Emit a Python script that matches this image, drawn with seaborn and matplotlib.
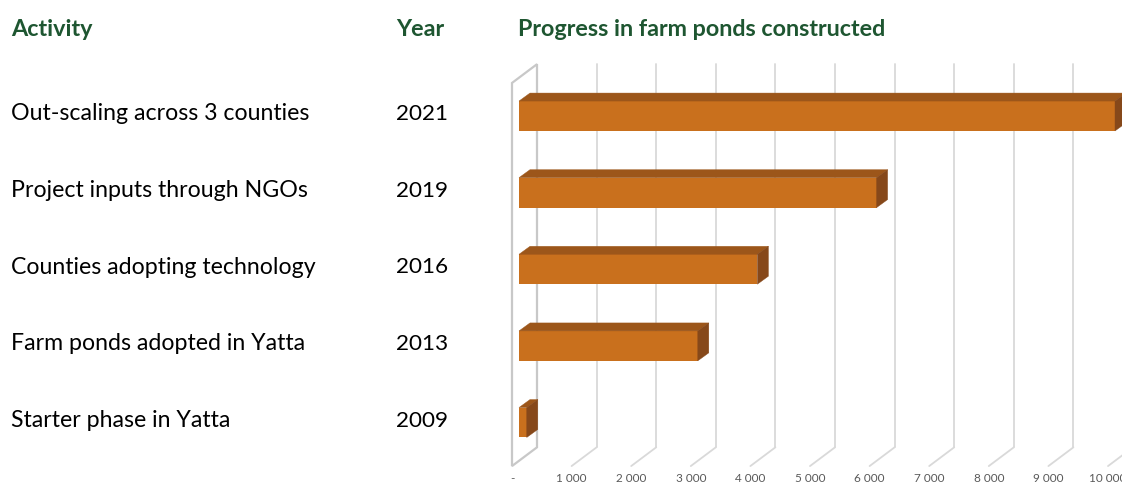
import numpy as np
import pandas as pd
import seaborn as sns
import matplotlib.pyplot as plt
from matplotlib.patches import Polygon
from matplotlib import transforms

# ---------------------------------------------------------------------------
# Data
# ---------------------------------------------------------------------------
activities = [
    "Out-scaling across 3 counties",
    "Project inputs through NGOs",
    "Counties adopting technology",
    "Farm ponds adopted in Yatta",
    "Starter phase in Yatta",
]
years = ["2021", "2019", "2016", "2013", "2009"]
ponds = [10000, 6000, 4000, 3000, 130]
xticks = list(range(0, 10001, 1000))
xtick_labels = ["-"] + [f"{t // 1000} 000" for t in xticks[1:]]

# ---------------------------------------------------------------------------
# Style / layout
# ---------------------------------------------------------------------------
FRONT = "#C9701D"
TOP = "#9C561A"
SIDE = "#86481A"
GREEN = "#1E5631"
GRID = "#D9D9D9"
WALL = "#C8C8C8"

W, H = 1122, 486
X0, X1 = 519, 1115          # pixel columns of 0 and 10 000 on the bar face
Y_FIRST, Y_LAST = 116, 422.5  # pixel rows of first / last bar centre
STEP = (Y_LAST - Y_FIRST) / 4

sns.set_theme(style="white")
plt.rcParams["font.family"] = ["Lato", "DejaVu Sans"]

fig = plt.figure(figsize=(W / 100, H / 100), dpi=100)
ax = fig.add_axes([X0 / W, 1 - (Y_LAST + STEP / 2) / H,
                   (X1 - X0) / W, 5 * STEP / H])

df = pd.DataFrame({"activity": activities, "ponds": ponds})
sns.barplot(data=df, x="ponds", y="activity", orient="h", color=FRONT,
            saturation=1, width=0.39, ax=ax, zorder=3,
            edgecolor="none", linewidth=0)
ax.set_xlim(0, 10000)
ax.set_ylim(4.5, -0.5)
ax.axis("off")

# pixel -> data unit helpers (y grows downward in both)
ux = 10000 / (X1 - X0)
uy = 1 / STEP


def off(dx_px, dy_px):
    return dx_px * ux, dy_px * uy


# 3D depth: bar depth, back wall and front plane offsets (in pixels)
bdx, bdy = off(11, -8)
backx, backy = off(18, -13.5)
frontx, fronty = off(-7, 5.25)

bars = list(ax.patches)

# back wall grid lines and floor lines
for t in xticks[1:]:
    ax.plot([t + backx, t + backx], [-0.5 + backy, 4.5 + backy],
            color=GRID, lw=1.3, clip_on=False, zorder=1)
    ax.plot([t + backx, t + frontx], [4.5 + backy, 4.5 + fronty],
            color=GRID, lw=1.3, clip_on=False, zorder=1)

# left side wall
wall = Polygon([(frontx, -0.5 + fronty), (backx, -0.5 + backy),
                (backx, 4.5 + backy), (frontx, 4.5 + fronty)],
               closed=True, facecolor="white", edgecolor=WALL, lw=1.6,
               clip_on=False, zorder=2)
ax.add_patch(wall)

# top and side faces of each bar
for p in bars:
    x, y, w, h = p.get_x(), p.get_y(), p.get_width(), p.get_height()
    top = Polygon([(x, y), (x + w, y), (x + w + bdx, y + bdy), (x + bdx, y + bdy)],
                  closed=True, facecolor=TOP, edgecolor=TOP, lw=0.3,
                  clip_on=False, zorder=3)
    side = Polygon([(x + w, y), (x + w + bdx, y + bdy),
                    (x + w + bdx, y + h + bdy), (x + w, y + h)],
                   closed=True, facecolor=SIDE, edgecolor=SIDE, lw=0.3,
                   clip_on=False, zorder=3)
    ax.add_patch(top)
    ax.add_patch(side)

# x tick labels on the front plane
for t, lab in zip(xticks, xtick_labels):
    ax.text(t + frontx, 4.5 + fronty + 7 * uy, lab, ha="center", va="top",
            fontsize=8.5, color="#595959", clip_on=False)

# left-hand table
trans = transforms.blended_transform_factory(fig.transFigure, ax.transData)
for i, (act, yr) in enumerate(zip(activities, years)):
    ax.text(11 / W, i - 2 * uy, act, transform=trans, ha="left", va="center",
            fontsize=16.7, color="black")
    ax.text(396 / W, i - 2 * uy, yr, transform=trans, ha="left", va="center",
            fontsize=16.2, color="black")

# headers
for xp, txt in [(11, "Activity"), (396, "Year"),
                (518, "Progress in farm ponds constructed")]:
    fig.text(xp / W, 1 - 29 / H, txt, ha="left", va="center",
             fontsize=16.8, fontweight="bold", color=GREEN)

fig.savefig("out.png", dpi=100)
